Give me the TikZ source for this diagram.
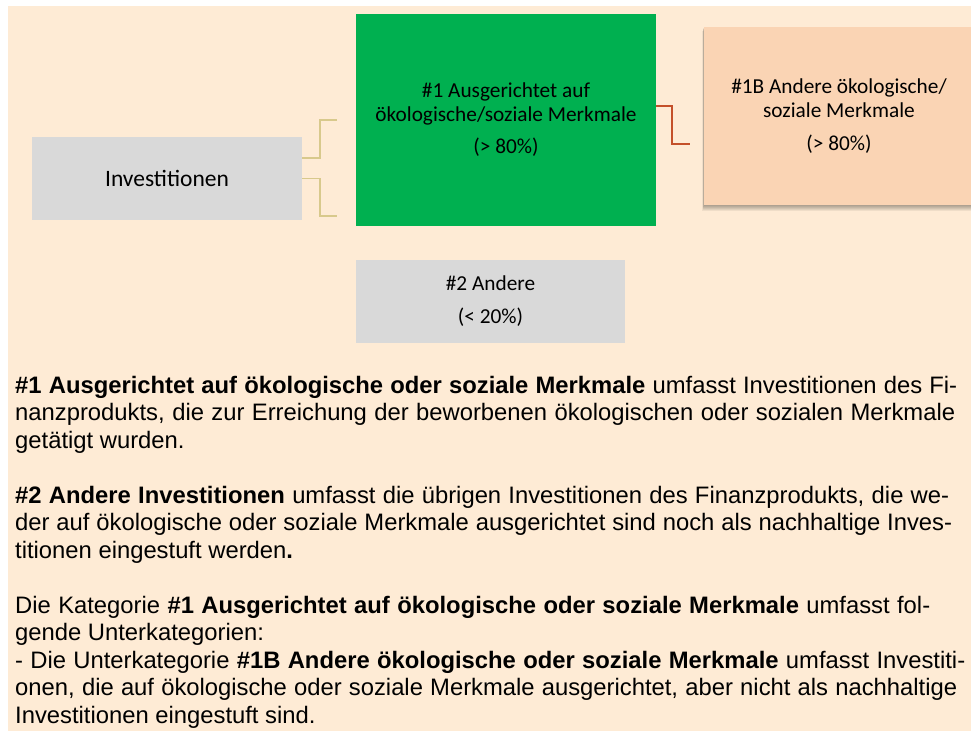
\documentclass[tikz,border=0pt]{standalone}
\usepackage{fontspec}
\setmainfont{Liberation Sans}
\newfontfamily\calibri{Carlito}

\definecolor{peach}{HTML}{FEEBD5}
\definecolor{peachbox}{HTML}{FAD4B4}
\definecolor{investgray}{HTML}{D9D9D9}
\definecolor{markgreen}{HTML}{00B050}
\definecolor{brackety}{HTML}{D8C98C}
\definecolor{bracketr}{HTML}{C4502A}

\tikzset{
  catbox/.style={inner sep=0pt, align=center, font=\calibri\fontsize{21.3pt}{24pt}\selectfont},
  ybracket/.style={draw=brackety, line width=1.6pt},
  rbracket/.style={draw=bracketr, line width=1.6pt},
  txtline/.style={anchor=base west, inner sep=0pt, font=\fontsize{23.8pt}{27.5pt}\selectfont}
}

\begin{document}
\begin{tikzpicture}[x=1pt, y=-1pt]

    \useasboundingbox[fill=white] (0,0) rectangle (971,731);
    \fill[peach] (8,6) rectangle (971,731);

    % boxes
    \node[catbox, fill=investgray, minimum width=270pt, minimum height=83pt,
          font=\calibri\fontsize{23.5pt}{26pt}\selectfont] (invest) at (167,178.5) {Investitionen};

    \node[catbox, fill=markgreen, minimum width=300pt, minimum height=212pt] (ausger) at (506,120)
    {\#1 Ausgerichtet auf\\ökologische/soziale Merkmale\\[8pt](> 80\%)};

    \foreach \k in {1,...,6}
        \fill[black, opacity=0.06] (704-0.3*\k,27+0.6*\k) rectangle (974,205+\k);
    \node[catbox, fill=peachbox, minimum width=270pt, minimum height=178pt] (andoek) at (839,116)
    {\#1B Andere ökologische/\\soziale Merkmale\\[9pt](> 80\%)};

    \node[catbox, fill=investgray, minimum width=269pt, minimum height=83pt] (andere) at (490.5,301.5)
    {\#2 Andere\\[9pt](< 20\%)};

    % connectors
    \coordinate (yb1) at (337,120);
    \coordinate (yb2) at (337,216);
    \coordinate (rb1) at (690,144);
    \draw[ybracket] ([yshift=20.5pt]invest.east) -| ([xshift=-17pt]yb1) -- (yb1);
    \draw[ybracket] (invest.east) -| ([xshift=-17pt]yb2) -- (yb2);
    \draw[rbracket] ([yshift=14pt]ausger.east) -| ([xshift=-18pt]rb1) -- (rb1);

    % explanation
    \node[txtline] (t1) at (15,393) {\makebox[942pt][s]{\textbf{\#1 Ausgerichtet auf ökologische oder soziale Merkmale} umfasst Investitionen des Fi-}};
    \node[txtline] (t2) at (15,420.5) {\makebox[940pt][s]{nanzprodukts, die zur Erreichung der beworbenen ökologischen oder sozialen Merkmale}};
    \node[txtline] (t3) at (15,448) {getätigt wurden.};

    \node[txtline] (t4) at (15,503) {\makebox[934pt][s]{\textbf{\#2 Andere Investitionen} umfasst die übrigen Investitionen des Finanzprodukts, die we-}};
    \node[txtline] (t5) at (15,530.5) {\makebox[937pt][s]{der auf ökologische oder soziale Merkmale ausgerichtet sind noch als nachhaltige Inves-}};
    \node[txtline] (t6) at (15,558) {titionen eingestuft werden\textbf{.}};

    \node[txtline] (t7) at (15,613) {\makebox[915pt][s]{Die Kategorie \textbf{\#1 Ausgerichtet auf ökologische oder soziale Merkmale} umfasst fol-}};
    \node[txtline] (t8) at (15,640.5) {gende Unterkategorien:};
    \node[txtline] (t9) at (15,668) {\makebox[950pt][s]{- Die Unterkategorie \textbf{\#1B Andere ökologische oder soziale Merkmale} umfasst Investiti-}};
    \node[txtline] (t10) at (15,695.5) {\makebox[942pt][s]{onen, die auf ökologische oder soziale Merkmale ausgerichtet, aber nicht als nachhaltige}};
    \node[txtline] (t11) at (15,723) {Investitionen eingestuft sind.};

\end{tikzpicture}
\end{document}
